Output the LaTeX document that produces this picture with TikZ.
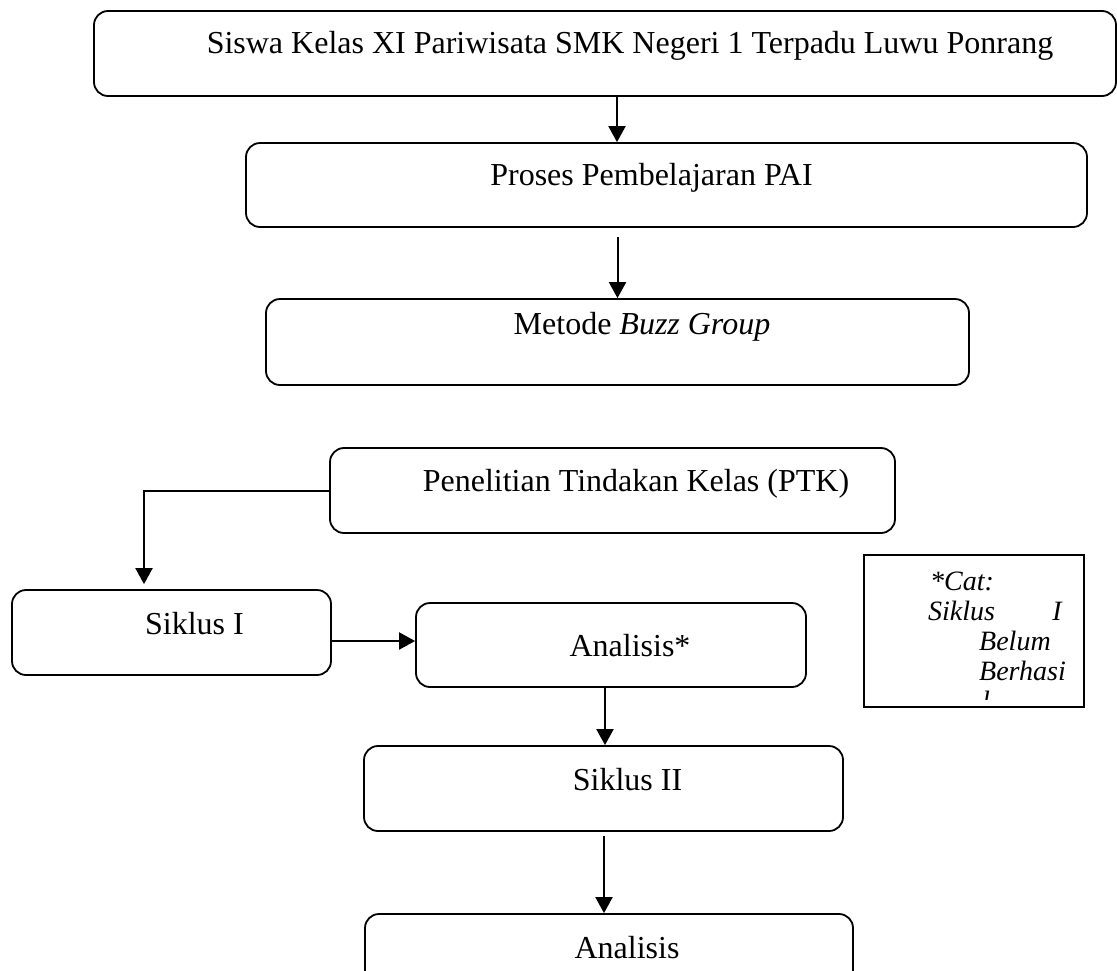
\documentclass[tikz,border=0pt]{standalone}
\usepackage{fontspec}
\setmainfont{Liberation Serif}
\usepackage{tikz}
\usetikzlibrary{positioning,arrows.meta,calc}

\begin{document}
\begin{tikzpicture}[
  x=1pt, y=-1pt,
  stepbox/.style={draw=black, rounded corners=14pt, line width=1.8pt, inner sep=0pt},
  notebox/.style={draw=black, line width=1.8pt, inner sep=0pt},
  boxtext/.style={font=\fontsize{32}{38}\selectfont, inner sep=0pt, anchor=base},
  notetext/.style={font=\fontsize{28}{30}\selectfont\itshape, inner sep=0pt, anchor=base west},
  flow/.style={-{Triangle[length=16pt,width=17pt]}, line width=2pt}
]
\useasboundingbox (0,0) rectangle (1117,970);
\clip (0,0) rectangle (1117,970);
% boxes
\node[stepbox, minimum width=1022pt, minimum height=85pt] (b1) at (605,53.5) {};
\node[stepbox, minimum width=841pt, minimum height=84pt] (b2) at (666.5,185) {};
\node[stepbox, minimum width=703pt, minimum height=86pt] (b3) at (617.5,342) {};
\node[stepbox, minimum width=565pt, minimum height=85pt] (b4) at (612.5,490.5) {};
\node[stepbox, minimum width=319pt, minimum height=85pt] (b5) at (171.5,632.5) {};
\node[stepbox, minimum width=390pt, minimum height=84pt] (b6) at (611,645) {};
\node[stepbox, minimum width=479pt, minimum height=85pt] (b7) at (603.5,788.5) {};
\node[stepbox, minimum width=488pt, minimum height=85pt] (b8) at (609,956.5) {};
\node[notebox, minimum width=220pt, minimum height=152pt] (note) at (974,631) {};
% texts
\node[boxtext] (t1) at (630,53) {Siswa Kelas XI Pariwisata SMK Negeri 1 Terpadu Luwu Ponrang};
\node[boxtext] (t2) at (651.5,185) {Proses Pembelajaran PAI};
\node[boxtext] (t3) at (642,334) {Metode \textit{Buzz Group}};
\node[boxtext] (t4) at (636,491) {Penelitian Tindakan Kelas (PTK)};
\node[boxtext] (t5) at (194.5,634) {Siklus I};
\node[boxtext] (t6) at (630,656) {Analisis*};
\node[boxtext] (t7) at (627.5,790) {Siklus II};
\node[boxtext] (t8) at (627,958) {Analisis};
% note
\node[notetext] (n1) at (930,590) {*Cat:};
\node[notetext] (n2) at (928,620) {Siklus};
\node[notetext, anchor=base east] (n3) at (1062,620) {I};
\node[notetext] (n4) at (979,650) {Belum};
\node[notetext] (n5) at (979,680) {Berhasi};
\begin{scope}
  \clip (864,555) rectangle (1084,699);
  \node[notetext] (n6) at (982,710) {l};
\end{scope}
% connectors
\draw[flow] ([xshift=12pt]b1.south) -- ([xshift=12pt]b1.south |- b2.north);
\draw[flow] ([yshift=-9pt]b2.south -| b3.north) -- (b3.north);
\draw[flow] (b4.west) -| ([xshift=-27.5pt,yshift=5pt]b5.north);
\draw[flow] ([yshift=-8.5pt]b5.east) -- ([yshift=-8.5pt]b5.east -| b6.west);
\draw[flow] ([xshift=-6pt]b6.south) -- ([xshift=-6pt]b6.south |- b7.north);
\draw[flow] ([xshift=0.5pt,yshift=-4pt]b7.south) -- ([xshift=0.5pt]b7.south |- b8.north);
\end{tikzpicture}
\end{document}
